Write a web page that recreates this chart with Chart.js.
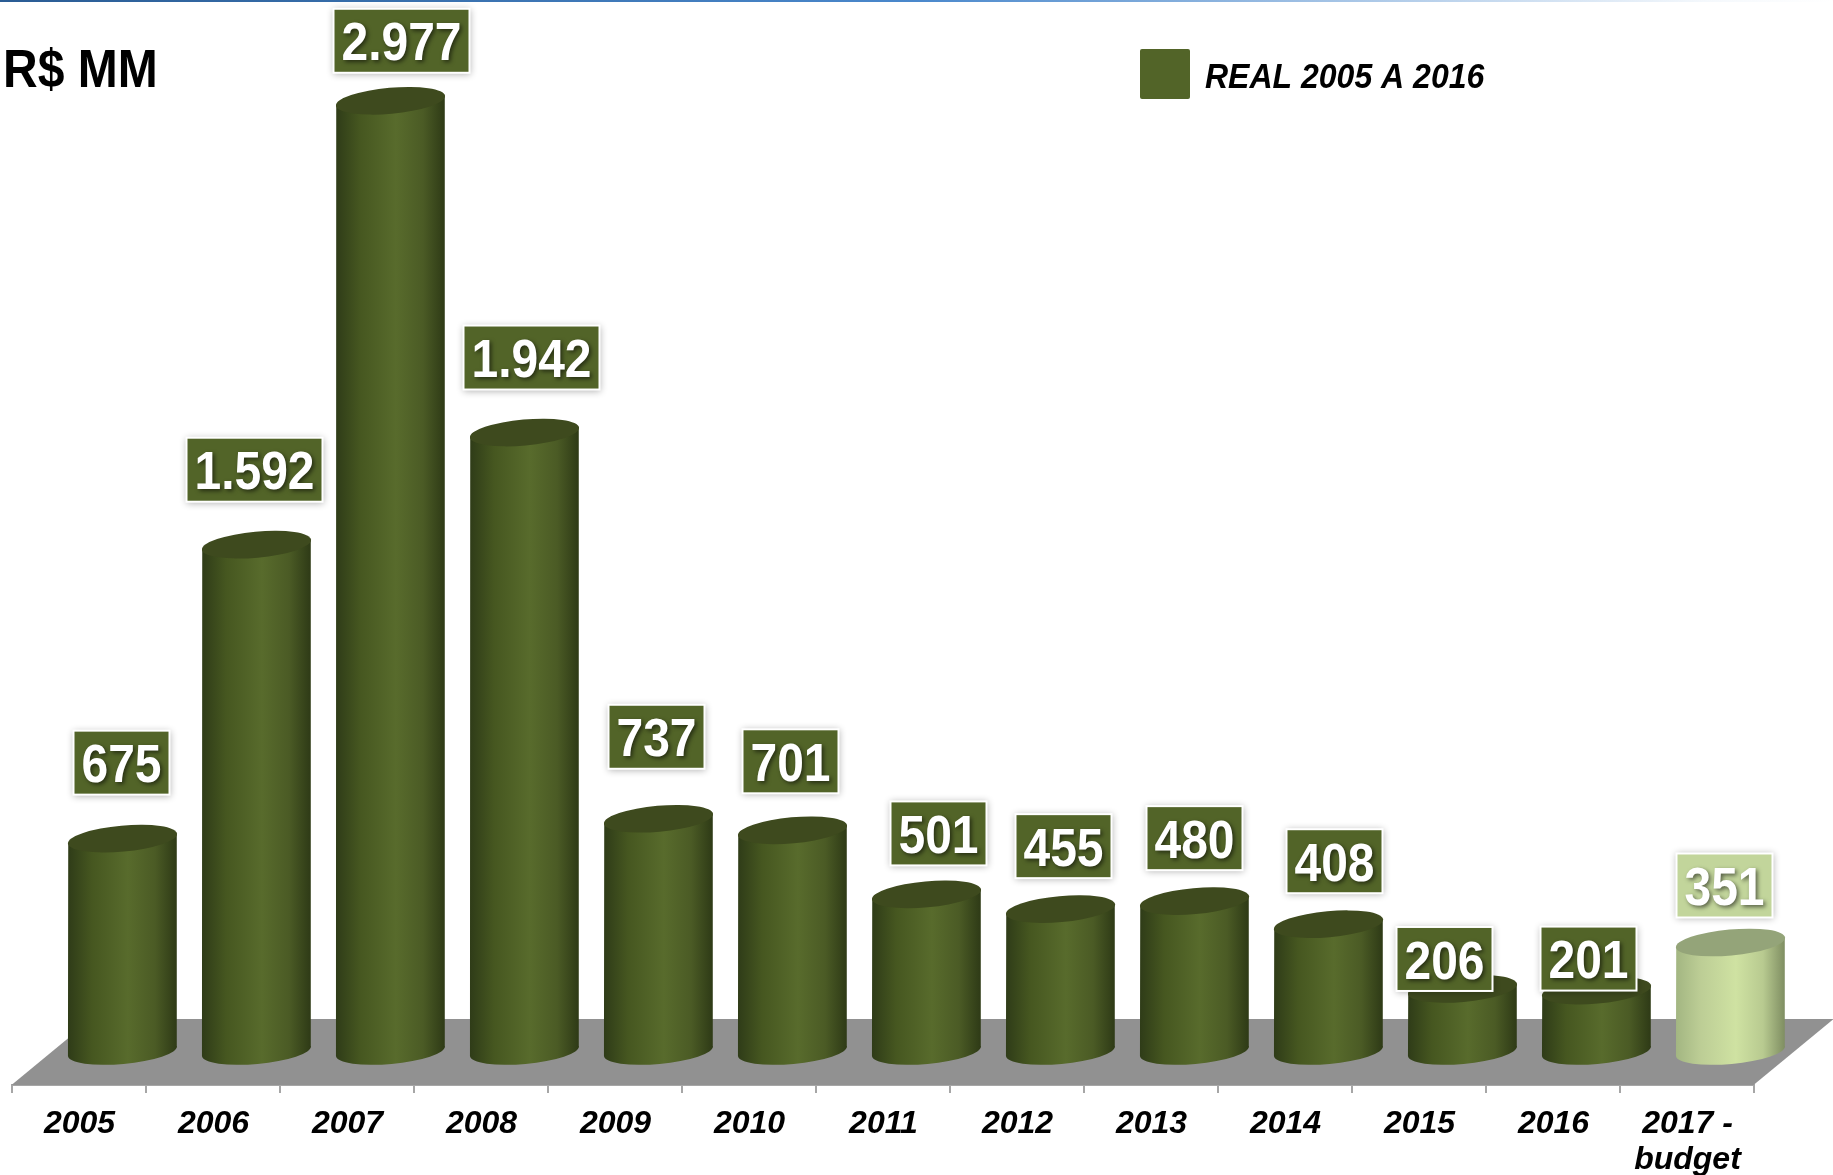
<!DOCTYPE html>
<html><head><meta charset="utf-8">
<style>html,body{margin:0;padding:0;background:#fff}canvas{display:block}</style>
<script src="https://cdn.jsdelivr.net/npm/chart.js@4/dist/chart.umd.js"></script>
</head><body>
<div style="width:1833px;height:1175px;position:relative"><canvas id="c" width="1833" height="1175"></canvas></div>
<script>
const categories = ['2005','2006','2007','2008','2009','2010','2011','2012','2013','2014','2015','2016',['2017 -','budget']];
const values = [675,1592,2977,1942,737,701,501,455,480,408,206,201,351];
const valueLabels = ['675','1.592','2.977','1.942','737','701','501','455','480','408','206','201','351'];
const seriesName = 'REAL 2005 A 2016';
const titleText = 'R$ MM';
const barColors = ['#526428','#526428','#526428','#526428','#526428','#526428','#526428','#526428','#526428','#526428','#526428','#526428','#c2d59b'];
const labelDx = [-1,-2,11,7,-2,-2,12,3,0,6,-18,-8,-6];
const labelDy = [76,75,60,75,82,69,61,63,63,63,30,32,57];

const FONT = '"Liberation Sans", Arial, sans-serif';
const DEPTH_X = 44, DEPTH_Y = -30, BASE_LIFT = 4;
const shades = {
  '#526428': {edgeL:'#2f3c18', midL:'#465720', hi:'#586b2c', midR:'#4b5b25', edgeR:'#2e3a16', top:'#3e4a1e'},
  '#c2d59b': {edgeL:'#a3b682', midL:'#bccd95', hi:'#cfe2a2', midR:'#b8ca90', edgeR:'#7f8e62', top:'#94a479'}
};

Chart.BarElement.prototype.draw = function(ctx){
  const o = this.options, s = shades[o.backgroundColor] || shades['#526428'];
  const w = this.width, cx = this.x + DEPTH_X, yTop = this.y + DEPTH_Y, yBase = this.base + DEPTH_Y - BASE_LIFT;
  const left = cx - w/2, right = cx + w/2;
  const rot = -0.09, rx = w/2 + 0.5, ry = 13, tilt = 4.5;
  const g = ctx.createLinearGradient(left,0,right,0);
  g.addColorStop(0,s.edgeL); g.addColorStop(0.22,s.midL); g.addColorStop(0.55,s.hi);
  g.addColorStop(0.8,s.midR); g.addColorStop(1,s.edgeR);
  ctx.save();
  ctx.beginPath();
  ctx.moveTo(left,yTop+tilt);
  ctx.lineTo(right,yTop-tilt);
  ctx.lineTo(right,yBase-tilt);
  ctx.ellipse(cx,yBase,rx,ry,rot,0,Math.PI,false);
  ctx.lineTo(left,yTop+tilt);
  ctx.closePath();
  ctx.fillStyle = g; ctx.fill();
  ctx.beginPath();
  ctx.ellipse(cx,yTop,rx,ry,rot,0,Math.PI*2);
  ctx.fillStyle = s.top; ctx.fill();
  ctx.restore();
};

const floorPlugin = {
  id:'floor',
  beforeDatasetsDraw(chart){
    const {ctx,chartArea:a} = chart;
    ctx.save();
    ctx.fillStyle = '#919191';
    ctx.beginPath();
    ctx.moveTo(a.left,a.bottom);
    ctx.lineTo(a.left+80,a.bottom-66);
    ctx.lineTo(a.right+80,a.bottom-66);
    ctx.lineTo(a.right,a.bottom);
    ctx.closePath(); ctx.fill();
    const tg = ctx.createLinearGradient(0,0,chart.width,0);
    tg.addColorStop(0,'#2a5c94'); tg.addColorStop(0.5,'#4a88cc'); tg.addColorStop(0.93,'#f4f8fc'); tg.addColorStop(1,'#ffffff');
    ctx.fillStyle = tg; ctx.fillRect(0,0,chart.width,2);
    ctx.restore();
  }
};

function stretchedText(ctx,txt,x,y,sy){
  ctx.save();
  ctx.translate(x,y); ctx.scale(1,sy);
  ctx.fillText(txt,0,0);
  ctx.restore();
}

const labelPlugin = {
  id:'valueBoxes',
  afterDatasetsDraw(chart){
    const {ctx} = chart;
    const meta = chart.getDatasetMeta(0);
    ctx.save();
    ctx.font = 'bold 48px '+FONT; ctx.textAlign='center'; ctx.textBaseline='middle';
    meta.data.forEach((el,i)=>{
      const txt = valueLabels[i];
      const bw = txt.length>3 ? 138 : 98, bh = 66;
      const cx = el.x + DEPTH_X + labelDx[i], cy = el.y + DEPTH_Y - labelDy[i];
      ctx.save();
      ctx.shadowColor='rgba(0,0,0,0.3)'; ctx.shadowBlur=7; ctx.shadowOffsetY=1;
      ctx.fillStyle='#fff'; ctx.fillRect(cx-bw/2,cy-bh/2,bw,bh);
      ctx.restore();
      ctx.fillStyle = barColors[i];
      ctx.fillRect(cx-bw/2+2,cy-bh/2+2,bw-4,bh-4);
      ctx.save();
      ctx.shadowColor='rgba(0,0,0,0.55)'; ctx.shadowBlur=4; ctx.shadowOffsetX=2; ctx.shadowOffsetY=2;
      ctx.fillStyle='#fff'; stretchedText(ctx,txt,cx,cy+5,1.1);
      ctx.restore();
    });
    ctx.textAlign='left'; ctx.fillStyle='#000';
    ctx.font='bold 48px '+FONT; stretchedText(ctx,titleText,3,72.5,1.1);
    ctx.fillStyle=barColors[0]; ctx.beginPath(); ctx.roundRect(1140,49,50,50,2); ctx.fill();
    ctx.fillStyle='#000'; ctx.font='italic bold 32px '+FONT;
    stretchedText(ctx,chart.data.datasets[0].label,1205,78.5,1.08);
    ctx.restore();
  }
};

new Chart(document.getElementById('c'),{
  type:'bar',
  data:{labels:categories,datasets:[{label:seriesName,data:values,backgroundColor:barColors,barPercentage:0.81,categoryPercentage:1,clip:false}]},
  options:{
    responsive:false,animation:false,devicePixelRatio:1,
    layout:{padding:{left:11.5,right:79.5,top:0,bottom:0}},
    plugins:{legend:{display:false},tooltip:{enabled:false},title:{display:false}},
    scales:{
      x:{
        afterFit(s){s.height=90;},
        grid:{display:true,drawOnChartArea:false,drawTicks:true,tickLength:8,color:'#a6a6a6',lineWidth:2},
        border:{display:true,color:'#a6a6a6',width:2},
        ticks:{color:'#000',padding:13,labelOffset:1,maxRotation:0,autoSkip:false,font:{family:FONT,size:32,style:'italic',weight:'bold',lineHeight:1.12}}
      },
      y:{display:false,min:0,max:3385,grace:0}
    }
  },
  plugins:[floorPlugin,labelPlugin]
});
</script>
</body></html>
